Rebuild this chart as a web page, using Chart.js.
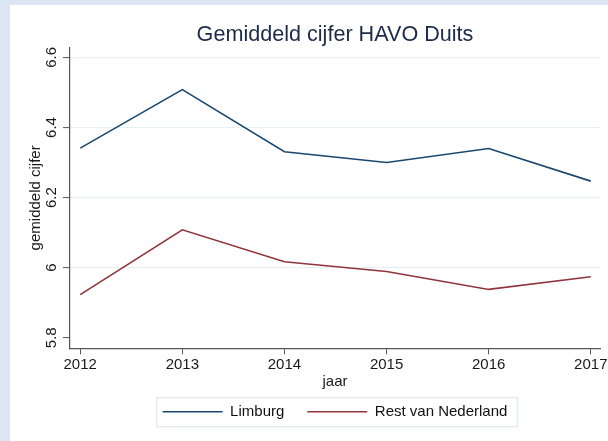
<!DOCTYPE html>
<html><head><meta charset="utf-8">
<script src="https://cdn.jsdelivr.net/npm/chart.js@4.4.0/dist/chart.umd.min.js"></script>
<style>html,body{margin:0;padding:0;background:#fff;}#wrap{width:608px;height:441px;}</style>
</head><body><div id="wrap"><canvas id="c" width="608" height="441"></canvas></div>
<script>
const years = [2012, 2013, 2014, 2015, 2016, 2017];
const limburg = [6.341, 6.508, 6.331, 6.300, 6.340, 6.247];
const restNL = [5.923, 6.108, 6.017, 5.989, 5.938, 5.974];
const yTicks = [5.8, 6.0, 6.2, 6.4, 6.6];
const yTickLabels = ['5.8', '6', '6.2', '6.4', '6.6'];
const seriesNames = ['Limburg', 'Rest van Nederland'];
const seriesColors = ['#1a476f', '#90353b'];

const FONT = '"Liberation Sans", Arial, sans-serif';
Chart.defaults.font.family = FONT;

const decor = {
  id: 'decor',
  beforeDraw(chart) {
    const ctx = chart.ctx;
    ctx.save();
    ctx.fillStyle = '#dce6f2';
    ctx.fillRect(0, 0, chart.width, chart.height);
    ctx.fillStyle = '#ffffff';
    ctx.fillRect(10, 5, chart.width - 10, chart.height - 5);
    const hb = chart.legend && chart.legend.legendHitBoxes;
    if (hb && hb.length) {
      const first = hb[0], last = hb[hb.length - 1];
      const l = first.left - 6, r = last.left + last.width + 10;
      const t = first.top - 6.5, b = first.top + 22.5;
      ctx.strokeStyle = '#e6edf0';
      ctx.lineWidth = 1.5;
      ctx.strokeRect(l, t, r - l, b - t);
    }
    ctx.restore();
  },
  afterDraw(chart) {
    const ctx = chart.ctx;
    const ys = chart.scales.y;
    ctx.save();
    ctx.fillStyle = '#1a1a1a';
    ctx.font = '15px ' + FONT;
    ctx.textAlign = 'center';
    ctx.textBaseline = 'middle';
    ys.ticks.forEach((t) => {
      const idx = yTicks.findIndex(v => Math.abs(v - t.value) < 1e-9);
      const py = ys.getPixelForValue(t.value);
      ctx.save();
      ctx.translate(52, py);
      ctx.rotate(-Math.PI / 2);
      ctx.fillText(idx >= 0 ? yTickLabels[idx] : String(t.value), 0, 0);
      ctx.restore();
    });
    ctx.restore();
  }
};

new Chart(document.getElementById('c'), {
  type: 'line',
  data: {
    datasets: [
      { label: seriesNames[0], data: years.map((x, i) => ({ x, y: limburg[i] })), borderColor: seriesColors[0], backgroundColor: seriesColors[0], borderWidth: 1.6, pointRadius: 0, tension: 0, fill: false },
      { label: seriesNames[1], data: years.map((x, i) => ({ x, y: restNL[i] })), borderColor: seriesColors[1], backgroundColor: seriesColors[1], borderWidth: 1.6, pointRadius: 0, tension: 0, fill: false }
    ]
  },
  options: {
    responsive: false,
    animation: false,
    devicePixelRatio: 1,
    layout: { padding: { left: 10, top: 5, right: 8, bottom: 11.8 } },
    plugins: {
      title: {
        display: true, text: 'Gemiddeld cijfer HAVO Duits', fullSize: false,
        color: '#1c2b4a', font: { size: 21.6, weight: 'normal', lineHeight: '18.6px', family: FONT },
        padding: { top: 20.5, bottom: 3.3 }
      },
      legend: {
        position: 'bottom', fullSize: false,
        labels: { usePointStyle: true, pointStyle: 'line', pointStyleWidth: 60, boxWidth: 60, boxHeight: 15, padding: 23, color: '#111', font: { size: 15, family: FONT } }
      },
      tooltip: { enabled: false }
    },
    scales: {
      x: {
        type: 'linear', min: 2011.9, max: 2017.09,
        afterBuildTicks: (s) => { s.ticks = years.map(v => ({ value: v })); },
        afterFit: (s) => { s.height = 32.9; s.paddingLeft = 0; s.paddingRight = 0; },
        ticks: { callback: (v) => String(v), color: '#1a1a1a', font: { size: 15 }, padding: 2, maxRotation: 0, autoSkip: false },
        grid: { drawOnChartArea: false, drawTicks: true, tickLength: 6, tickColor: '#555', tickWidth: 1 },
        border: { color: '#555', width: 1.2 },
        title: { display: true, text: 'jaar', color: '#1a1a1a', font: { size: 15 }, padding: { top: 0, bottom: -9.5 } }
      },
      y: {
        type: 'linear', min: 5.77, max: 6.6285,
        afterBuildTicks: (s) => { s.ticks = yTicks.map(v => ({ value: v })); },
        afterFit: (s) => { s.width = 60; },
        ticks: { display: false },
        grid: {
          color: (c) => (c.tick && Math.abs(c.tick.value - 5.8) < 1e-6) ? 'rgba(0,0,0,0)' : '#e7f0f2',
          lineWidth: 1.2, drawTicks: true, tickLength: 7, tickColor: '#555', tickWidth: 1
        },
        border: { color: '#555', width: 1.2 },
        title: { display: true, text: 'gemiddeld cijfer', color: '#1a1a1a', font: { size: 15 }, padding: { top: 17, bottom: 0 } }
      }
    }
  },
  plugins: [decor]
});
</script>
</body></html>
